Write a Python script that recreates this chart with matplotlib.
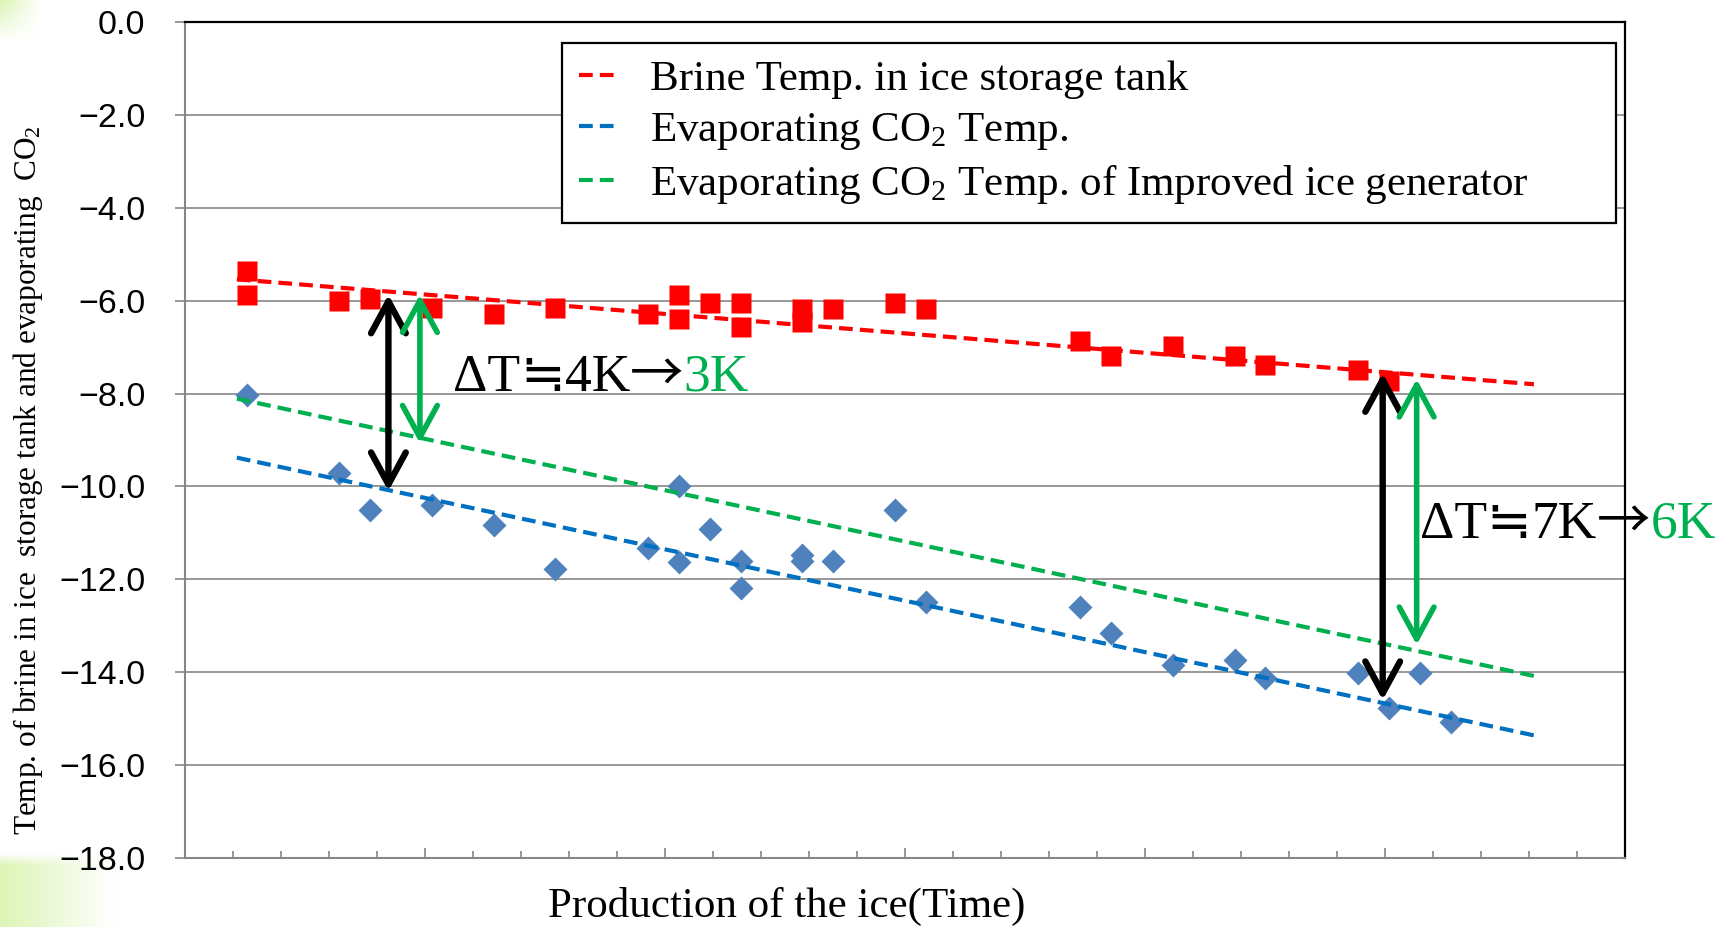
import numpy as np
import matplotlib
matplotlib.use("Agg")
import matplotlib.pyplot as plt

plt.rcParams["font.family"] = ["Liberation Sans"]
plt.rcParams["mathtext.fontset"] = "custom"
plt.rcParams["mathtext.rm"] = "Liberation Serif"
plt.rcParams["mathtext.it"] = "Liberation Serif:italic"

# ---------------- data ----------------
brine_day = [2, 2, 5, 6, 8, 10, 12, 15, 16, 16, 17, 18, 18, 20, 20, 21, 23, 24,
             29, 30, 32, 34, 35, 38, 39]
brine_temp = [-5.36, -5.87, -6.00, -5.96, -6.16, -6.29, -6.16, -6.29, -5.87, -6.39,
              -6.05, -6.05, -6.57, -6.18, -6.46, -6.18, -6.05, -6.18, -6.86, -7.20,
              -6.97, -7.20, -7.38, -7.49, -7.73]
co2_day = [2, 5, 6, 8, 10, 12, 15, 16, 16, 17, 18, 18, 20, 20, 21, 23, 24, 29, 30,
           32, 34, 35, 38, 39, 40, 41]
co2_temp = [-8.03, -9.70, -10.51, -10.40, -10.82, -11.78, -11.32, -9.98, -11.63,
            -10.91, -11.61, -12.19, -11.47, -11.61, -11.61, -10.51, -12.48, -12.59,
            -13.16, -13.84, -13.74, -14.13, -14.02, -14.78, -14.02, -15.07]

# trend lines (start / end of the drawn linear trends)
trend_days = [1.68, 43.7]
brine_trend = [-5.54, -7.80]
co2_trend = [-9.38, -15.36]
improved_trend = [-8.11, -14.08]

# double arrows: day, top temperature, bottom temperature
arrow_black_day = [6.59, 38.8]
arrow_black_top = [-5.87, -7.56]
arrow_black_bottom = [-10.10, -14.60]
arrow_green_day = [7.61, 39.9]
arrow_green_top = [-5.87, -7.69]
arrow_green_bottom = [-9.07, -13.41]

# delta-T labels
dt_label_day = [8.68, 40.0]
dt_label_temp = [-7.94, -11.11]
dt_current = ["4K", "7K"]
dt_improved = ["3K", "6K"]

legend_labels = ["Brine Temp. in ice storage tank",
                 "Evaporating CO$_\\mathrm{2}$ Temp.",
                 "Evaporating CO$_\\mathrm{2}$ Temp. of Improved ice generator"]
y_ticks = [0.0, -2.0, -4.0, -6.0, -8.0, -10.0, -12.0, -14.0, -16.0, -18.0]
x_span_days = 46.65
x_tick_count = 30

RED = "#FF0000"
BLUE_M = "#4F81BD"
BLUE_L = "#0070C0"
GREEN = "#00B050"
GRID = "#868686"
SERIF = ["Liberation Serif", "Noto Sans CJK JP"]
CJK = ["Noto Sans CJK JP", "DejaVu Sans"]

W, H = 1731, 927
fig = plt.figure(figsize=(W / 100, H / 100), dpi=100)

# light green decoration in the left corners
bg = fig.add_axes([0, 0, 1, 1], zorder=-10)
bg.axis("off")
yy, xx = np.mgrid[0:H:3, 0:W:3].astype(float)
a_bot = np.clip(1 - xx / 115, 0, 1) * np.clip((yy - 852) / 12, 0, 1)
a_top = np.clip(1 - xx / 40, 0, 1) * np.clip(1 - yy / 40, 0, 1)
alpha = np.clip(np.maximum(a_bot, a_top) * 0.95, 0, 1)
img = np.zeros(yy.shape + (4,))
img[..., 0] = 0.86
img[..., 1] = 0.96
img[..., 2] = 0.70
img[..., 3] = alpha
bg.imshow(img, extent=[0, 1, 0, 1], aspect="auto", interpolation="bilinear")
bg.set_xlim(0, 1)
bg.set_ylim(0, 1)

ax = fig.add_axes([185 / W, 1 - 858 / H, 1440 / W, 836 / H])
ax.set_xlim(0, x_span_days)
ax.set_ylim(-18, 0)

ax.plot(brine_day, brine_temp, "s", color=RED, ms=15, mec="none", zorder=3)
ax.plot(co2_day, co2_temp, "D", color=BLUE_M, ms=11.8, mec="none", zorder=3)

l1, = ax.plot(trend_days, brine_trend, color=RED, lw=3.0, dashes=(3.3, 1.7), zorder=4)
l2, = ax.plot(trend_days, co2_trend, color=BLUE_L, lw=3.0, dashes=(3.3, 1.7), zorder=4)
l3, = ax.plot(trend_days, improved_trend, color=GREEN, lw=3.0, dashes=(3.3, 1.7), zorder=4)

for d, t, b in zip(arrow_black_day, arrow_black_top, arrow_black_bottom):
    ax.annotate("", xy=(d, b), xytext=(d, t),
                arrowprops=dict(arrowstyle="<->,head_length=2.3,head_width=1.25",
                                lw=4.6, color="black", shrinkA=0, shrinkB=0,
                                mutation_scale=10, joinstyle="round", capstyle="round"),
                zorder=6)
for d, t, b in zip(arrow_green_day, arrow_green_top, arrow_green_bottom):
    ax.annotate("", xy=(d, b), xytext=(d, t),
                arrowprops=dict(arrowstyle="<->,head_length=2.3,head_width=1.25",
                                lw=4.0, color=GREEN, shrinkA=0, shrinkB=0,
                                mutation_scale=10, joinstyle="round", capstyle="round"),
                zorder=6)


def chain_text(x, y, pieces, size):
    s, fam, col = pieces[0]
    prev = ax.text(x, y, s, family=fam, fontsize=size, color=col, ha="left",
                   va="baseline", zorder=7, clip_on=False)
    for s, fam, col in pieces[1:]:
        prev = ax.annotate(s, xy=(1, y), xycoords=(prev, "data"), family=fam,
                           fontsize=size, color=col, ha="left", va="baseline",
                           zorder=7, annotation_clip=False)


for d, t, cur, imp in zip(dt_label_day, dt_label_temp, dt_current, dt_improved):
    chain_text(d, t, [("ΔT", SERIF, "black"), ("≒", CJK, "black"),
                      (cur, SERIF, "black"), ("→", CJK, "black"),
                      (imp, SERIF, GREEN)], 38.5)

# axes styling
ax.set_yticks(y_ticks)
ax.set_yticklabels([f"{v:.1f}".replace("-", "\u2212") for v in y_ticks])
step = x_span_days / x_tick_count
ax.set_xticks(np.arange(0, x_tick_count + 1, 5) * step)
ax.set_xticks(np.arange(0, x_tick_count + 1) * step, minor=True)
ax.tick_params(axis="x", which="major", direction="in", length=7.5, width=1.2,
               color=GRID, labelbottom=False)
ax.tick_params(axis="x", which="minor", direction="in", length=5, width=1.2, color=GRID)
ax.tick_params(axis="y", which="major", direction="out", length=7.5, width=1.2,
               color=GRID, pad=21, labelsize=24.5)
ax.yaxis.grid(True, color=GRID, lw=1.2)
ax.set_axisbelow(True)
for s in ("left", "bottom"):
    ax.spines[s].set_color(GRID)
    ax.spines[s].set_linewidth(1.5)
for s in ("top", "right"):
    ax.spines[s].set_color("black")
    ax.spines[s].set_linewidth(1.6)

ax.set_ylabel("Temp. of brine in ice  storage tank and evaporating  CO$_\\mathrm{2}$",
              family=SERIF, fontsize=22.5)
ax.yaxis.set_label_coords((45 - 185) / 1440, (858 - 480) / 836)

fig.text(787 / W, 1 - 917 / H, "Production of the ice(Time)", family=SERIF,
         fontsize=31, ha="center", va="baseline")

leg = ax.legend([l1, l2, l3], legend_labels, loc="upper left",
                bbox_to_anchor=(562 / W, 1 - 220 / H, (1616 - 562) / W, (220 - 43) / H),
                bbox_transform=fig.transFigure, mode="expand", borderaxespad=0,
                prop={"family": SERIF, "size": 31}, frameon=True, fancybox=False,
                framealpha=1, edgecolor="black", borderpad=0.4, labelspacing=0.26,
                handlelength=0.9, handletextpad=0.75)
leg.get_frame().set_linewidth(1.6)
leg.set_zorder(8)

fig.savefig("out.png", dpi=100)
